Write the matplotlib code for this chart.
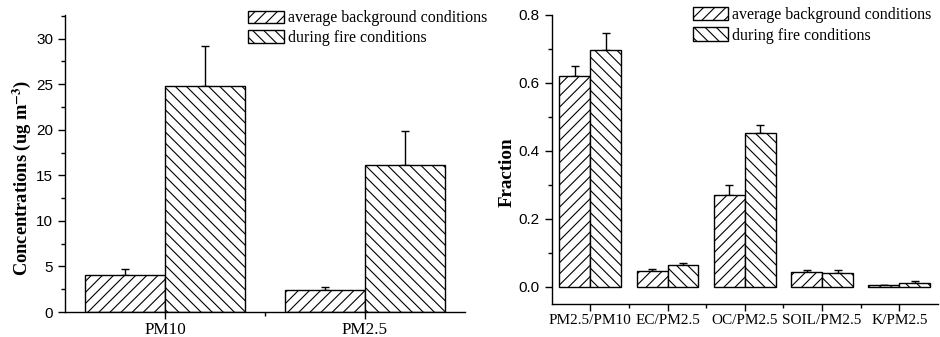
import matplotlib
matplotlib.use("Agg")
import matplotlib.pyplot as plt
import numpy as np
from matplotlib.ticker import MultipleLocator, FixedLocator

plt.rcParams['mathtext.fontset'] = 'stix'
plt.rcParams['hatch.linewidth'] = 0.8

# Left panel data
conc_categories = ["PM10", "PM2.5"]
conc_background = [4.1, 2.45]
conc_background_err = [0.6, 0.25]
conc_fire = [24.8, 16.1]
conc_fire_err = [4.4, 3.8]

# Right panel data
frac_categories = ["PM2.5/PM10", "EC/PM2.5", "OC/PM2.5", "SOIL/PM2.5", "K/PM2.5"]
frac_background = [0.618, 0.047, 0.270, 0.044, 0.005]
frac_background_err = [0.031, 0.007, 0.028, 0.005, 0.001]
frac_fire = [0.697, 0.064, 0.452, 0.042, 0.011]
frac_fire_err = [0.048, 0.007, 0.023, 0.009, 0.006]

series_labels = ["average background conditions", "during fire conditions"]

serif = "Liberation Serif"
sans = "Liberation Sans"

fig = plt.figure(figsize=(9.4, 3.37), dpi=100)

def draw(ax, cats, bg, bg_err, fire, fire_err, xfs, yfs):
    x = np.arange(1, len(cats) + 1)
    w = 0.4
    b1 = ax.bar(x - w / 2, bg, w, color="white", edgecolor="black", hatch="///",
                linewidth=1.0, label=series_labels[0], zorder=2)
    b2 = ax.bar(x + w / 2, fire, w, color="white", edgecolor="black", hatch="\\\\\\",
                linewidth=1.0, label=series_labels[1], zorder=2)
    ax.errorbar(x - w / 2, bg, yerr=[np.zeros(len(bg)), bg_err], fmt="none",
                ecolor="black", elinewidth=1.0, capsize=3, capthick=1.0, zorder=1)
    ax.errorbar(x + w / 2, fire, yerr=[np.zeros(len(fire)), fire_err], fmt="none",
                ecolor="black", elinewidth=1.0, capsize=3, capthick=1.0, zorder=1)
    ax.set_xlim(0.5, len(cats) + 0.5)
    ax.set_xticks(x)
    ax.set_xticklabels(cats, fontfamily=serif, fontsize=xfs)
    ax.xaxis.set_minor_locator(FixedLocator(np.arange(1.5, len(cats), 1.0)))
    for s in ["top", "right"]:
        ax.spines[s].set_visible(False)
    for s in ["left", "bottom"]:
        ax.spines[s].set_linewidth(1.0)
    ax.tick_params(which="major", direction="out", length=5, width=1.0)
    ax.tick_params(which="minor", direction="out", length=3, width=1.0)
    ax.tick_params(axis="y", labelsize=yfs)
    ax.tick_params(axis="x", pad=2)
    return b1, b2

# Left
ax1 = fig.add_axes([65 / 940, 25 / 337, 400 / 940, 297 / 337])
h1 = draw(ax1, conc_categories, conc_background, conc_background_err, conc_fire, conc_fire_err,
          12.3, 11)
ax1.set_ylim(0, 32.6)
ax1.yaxis.set_major_locator(MultipleLocator(5))
ax1.yaxis.set_minor_locator(MultipleLocator(2.5))
for lab in ax1.get_yticklabels():
    lab.set_fontfamily(sans)
ax1.set_ylabel(r"Concentrations (ug m$^{\mathbf{-3}}$)", fontfamily=serif,
               fontweight="bold", fontsize=13.3)
ax1.yaxis.set_label_coords(-0.08, 0.45)
fig.legend(h1, series_labels, loc="upper left", bbox_to_anchor=(248 / 940, 1 - 10.5 / 337),
           frameon=False, borderpad=0, borderaxespad=0, handlelength=2.25,
           handleheight=0.85, handletextpad=0.25, labelspacing=0.2,
           prop={"family": serif, "size": 11.5})

# Right
ax2 = fig.add_axes([551.7 / 940, 33 / 337, 386.3 / 940, 289.5 / 337])
h2 = draw(ax2, frac_categories, frac_background, frac_background_err, frac_fire, frac_fire_err,
          11, 11)
ax2.set_ylim(-0.05, 0.8)
ax2.yaxis.set_major_locator(MultipleLocator(0.2))
ax2.yaxis.set_minor_locator(MultipleLocator(0.1))
ax2.yaxis.set_major_formatter(matplotlib.ticker.FormatStrFormatter("%.1f"))
for lab in ax2.get_yticklabels():
    lab.set_fontfamily(sans)
ax2.set_ylabel("Fraction", fontfamily=serif, fontweight="bold", fontsize=13.7)
ax2.yaxis.set_label_coords(-0.092, 0.456)
fig.legend(h2, series_labels, loc="upper left", bbox_to_anchor=(692.7 / 940, 1 - 6.5 / 337),
           frameon=False, borderpad=0, borderaxespad=0, handlelength=2.2,
           handleheight=0.9, handletextpad=0.25, labelspacing=0.3,
           prop={"family": serif, "size": 11.5})

fig.savefig("out.png", dpi=100)
